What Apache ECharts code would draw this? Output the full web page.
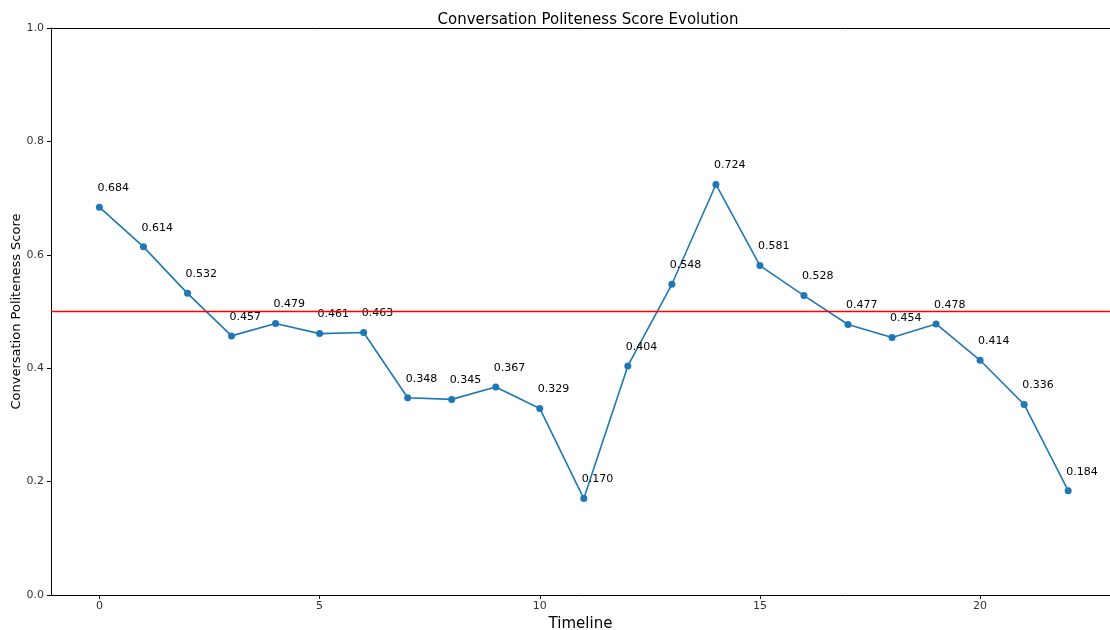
<!DOCTYPE html>
<html><head><meta charset="utf-8">
<script src="https://cdn.jsdelivr.net/npm/echarts@6/dist/echarts.min.js"></script>
<style>html,body{margin:0;padding:0;background:#fff}#c{width:1110px;height:630px}</style>
</head><body><div id="c"></div>
<script>
const timeline = [0,1,2,3,4,5,6,7,8,9,10,11,12,13,14,15,16,17,18,19,20,21,22];
const scores = [0.684,0.614,0.532,0.457,0.479,0.461,0.463,0.348,0.345,0.367,0.329,0.170,0.404,0.548,0.724,0.581,0.528,0.477,0.454,0.478,0.414,0.336,0.184];
const xTicks = [0,5,10,15,20];
const threshold = 0.5;
const F = 'DejaVu Sans';
const chart = echarts.init(document.getElementById('c'));
chart.setOption({
  animation:false,
  textStyle:{fontFamily:F},
  title:{text:'Conversation Politeness Score Evolution',left:583,top:8,textAlign:'center',
    textStyle:{fontFamily:F,fontSize:15,fontWeight:'normal',color:'#000'}},
  grid:{left:51,right:0,top:28,bottom:35,outerBoundsMode:'none',containLabel:false},
  xAxis:[{type:'value',min:-1.1,max:22.95,
    name:'Timeline',nameLocation:'middle',nameGap:22,nameMoveOverlap:false,
    nameTextStyle:{fontFamily:F,fontSize:15,color:'#000'},
    axisLine:{show:true,onZero:false,lineStyle:{color:'#000',width:1}},
    axisTick:{show:true,length:4,customValues:xTicks,lineStyle:{color:'#000'}},
    axisLabel:{customValues:xTicks,fontFamily:F,fontSize:11,color:'#333',margin:6},
    splitLine:{show:false}},
   {type:'value',position:'top',min:-1.1,max:22.95,
    axisLine:{show:true,onZero:false,lineStyle:{color:'#000',width:1}},
    axisTick:{show:false},axisLabel:{show:false},splitLine:{show:false}}],
  yAxis:{type:'value',min:0,max:1,interval:0.2,
    name:'Conversation Politeness Score',nameLocation:'middle',nameGap:28,nameMoveOverlap:false,
    nameTextStyle:{fontFamily:F,fontSize:13,color:'#000'},
    axisLine:{show:true,onZero:false,lineStyle:{color:'#000',width:1}},
    axisTick:{show:true,length:4,lineStyle:{color:'#000'}},
    axisLabel:{fontFamily:F,fontSize:11,color:'#333',margin:7,formatter:v=>v.toFixed(1)},
    splitLine:{show:false}},
  series:[
   {type:'line',data:[],xAxisIndex:0,yAxisIndex:0,silent:true,z:1,
    itemStyle:{color:'#ff0000'},lineStyle:{color:'#ff0000'},
    markLine:{silent:true,symbol:'none',label:{show:false},
      itemStyle:{color:'#ff0000'},
      lineStyle:{color:'#ff0000',width:1.3,type:'solid',opacity:1},
      emphasis:{disabled:true},
      data:[{yAxis:threshold,lineStyle:{color:'#ff0000'}}]}},
   {type:'line',data:timeline.map((t,i)=>[t,scores[i]]),xAxisIndex:0,yAxisIndex:0,
    symbol:'circle',symbolSize:7,z:3,
    lineStyle:{color:'#1f77b4',width:1.6},itemStyle:{color:'#1f77b4'},
    label:{show:true,position:'top',distance:10,align:'left',offset:[-2,0],
      fontFamily:F,fontSize:11,color:'#000',formatter:p=>p.value[1].toFixed(3)}}
  ]
});
</script></body></html>
